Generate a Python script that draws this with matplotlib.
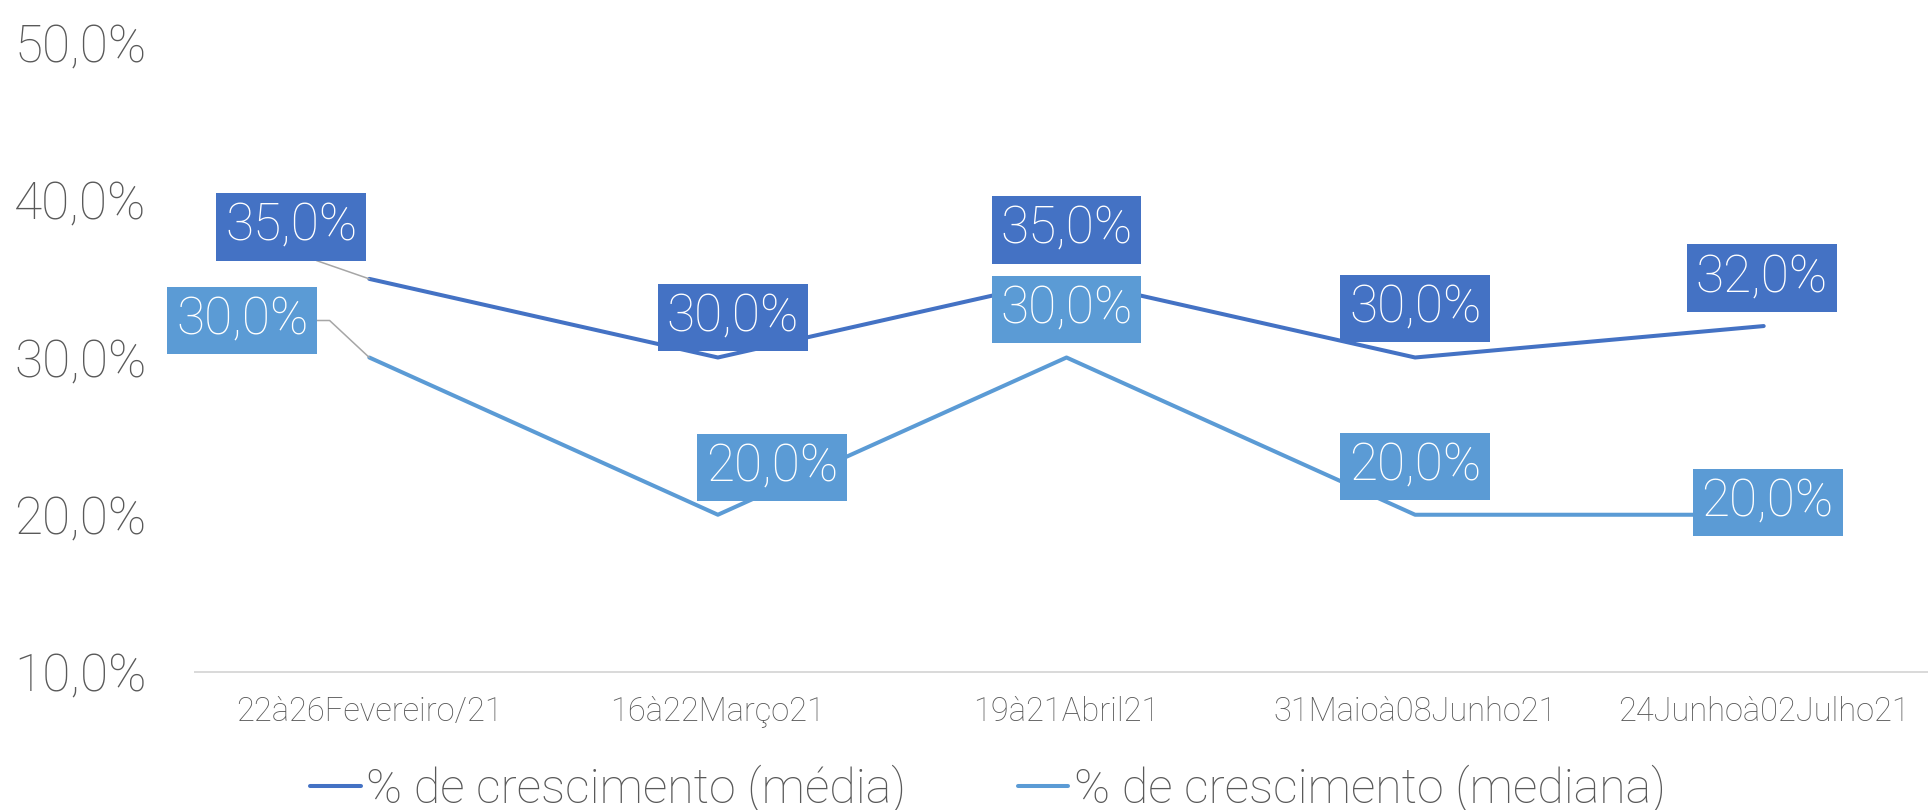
import matplotlib
matplotlib.use("Agg")
import matplotlib.pyplot as plt
from matplotlib.ticker import FuncFormatter

plt.rcParams['font.family'] = ['Roboto', 'DejaVu Sans']
plt.rcParams['font.weight'] = 'light'

# ---- data ----
categories = ["22à26Fevereiro/21", "16à22Março21", "19à21Abril21",
              "31Maioà08Junho21", "24Junhoà02Julho21"]
media = [35.0, 30.0, 35.0, 30.0, 32.0]
mediana = [30.0, 20.0, 30.0, 20.0, 20.0]
series_names = ["% de crescimento (média)", "% de crescimento (mediana)"]
y_ticks = [10, 20, 30, 40, 50]

# ---- styles ----
c_media = "#4472C4"
c_mediana = "#5B9BD5"
grey_txt = "#595959"
# label offsets (points) for each data label (center of box relative to point)
px = 0.72
off_media = [(-78 * px, 52 * px), (15 * px, 40 * px), (0, 49 * px), (0, 49 * px), (-2 * px, 48 * px)]
off_mediana = [(-127 * px, 37 * px), (54 * px, 47 * px), (0, 48 * px), (0, 48 * px), (4 * px, 12 * px)]

fig = plt.figure(figsize=(19.28, 8.10), dpi=100)
fig.patch.set_facecolor("white")
ax = fig.add_axes([195 / 1928, 1 - 672 / 810, (1938 - 195) / 1928, (672 - 43) / 810])
ax.set_facecolor("none")

x = list(range(len(categories)))
lw = 2.9
l1, = ax.plot(x, media, color=c_media, lw=lw, solid_capstyle='round', solid_joinstyle='round', zorder=3)
l2, = ax.plot(x, mediana, color=c_mediana, lw=lw, solid_capstyle='round', solid_joinstyle='round', zorder=3)

ax.set_xlim(-0.5, len(categories) - 0.5)
ax.set_ylim(y_ticks[0], y_ticks[-1])
ax.set_yticks(y_ticks)
ax.yaxis.set_major_formatter(FuncFormatter(lambda v, p: f"{v:.1f}%".replace('.', ',')))
ax.set_xticks(x)
ax.set_xticklabels(categories)

for s in ["top", "right", "left"]:
    ax.spines[s].set_visible(False)
ax.spines["bottom"].set_color("#D9D9D9")
ax.spines["bottom"].set_linewidth(1.4)
ax.tick_params(axis='y', length=0, pad=35, labelsize=37, labelcolor=grey_txt)
ax.tick_params(axis='x', length=0, pad=17, labelsize=23.5, labelcolor=grey_txt)


def add_labels(vals, offs, color):
    for i, (v, (dx, dy)) in enumerate(zip(vals, offs)):
        kw = {}
        if i == 0:
            if color == c_media:
                kw['arrowprops'] = dict(arrowstyle='-', color='#A6A6A6', lw=1.1,
                                        shrinkA=0, shrinkB=0, relpos=(0.5, 0.0))
            else:
                kw['arrowprops'] = dict(arrowstyle='-', color='#A6A6A6', lw=1.1,
                                        shrinkA=0, shrinkB=0, relpos=(1.0, 0.5),
                                        connectionstyle="angle,angleA=0,angleB=137,rad=0")
        ax.annotate(f"{v:.1f}%".replace('.', ','), xy=(i, v), xytext=(dx, dy),
                    textcoords='offset points', ha='center', va='center',
                    fontsize=37, color='white', zorder=5,
                    bbox=dict(boxstyle='square,pad=0.17', fc=color, ec='none'),
                    **kw)


add_labels(media, off_media, c_media)
add_labels(mediana, off_mediana, c_mediana)

leg = fig.legend([l1, l2], series_names, loc='center',
                 bbox_to_anchor=(988 / 1928, 1 - 789 / 810), ncol=2, frameon=False,
                 fontsize=34.8, handlelength=1.04, handletextpad=0.12, columnspacing=2.3,
                 labelcolor=grey_txt)

fig.savefig("out.png", dpi=100, facecolor="white")
